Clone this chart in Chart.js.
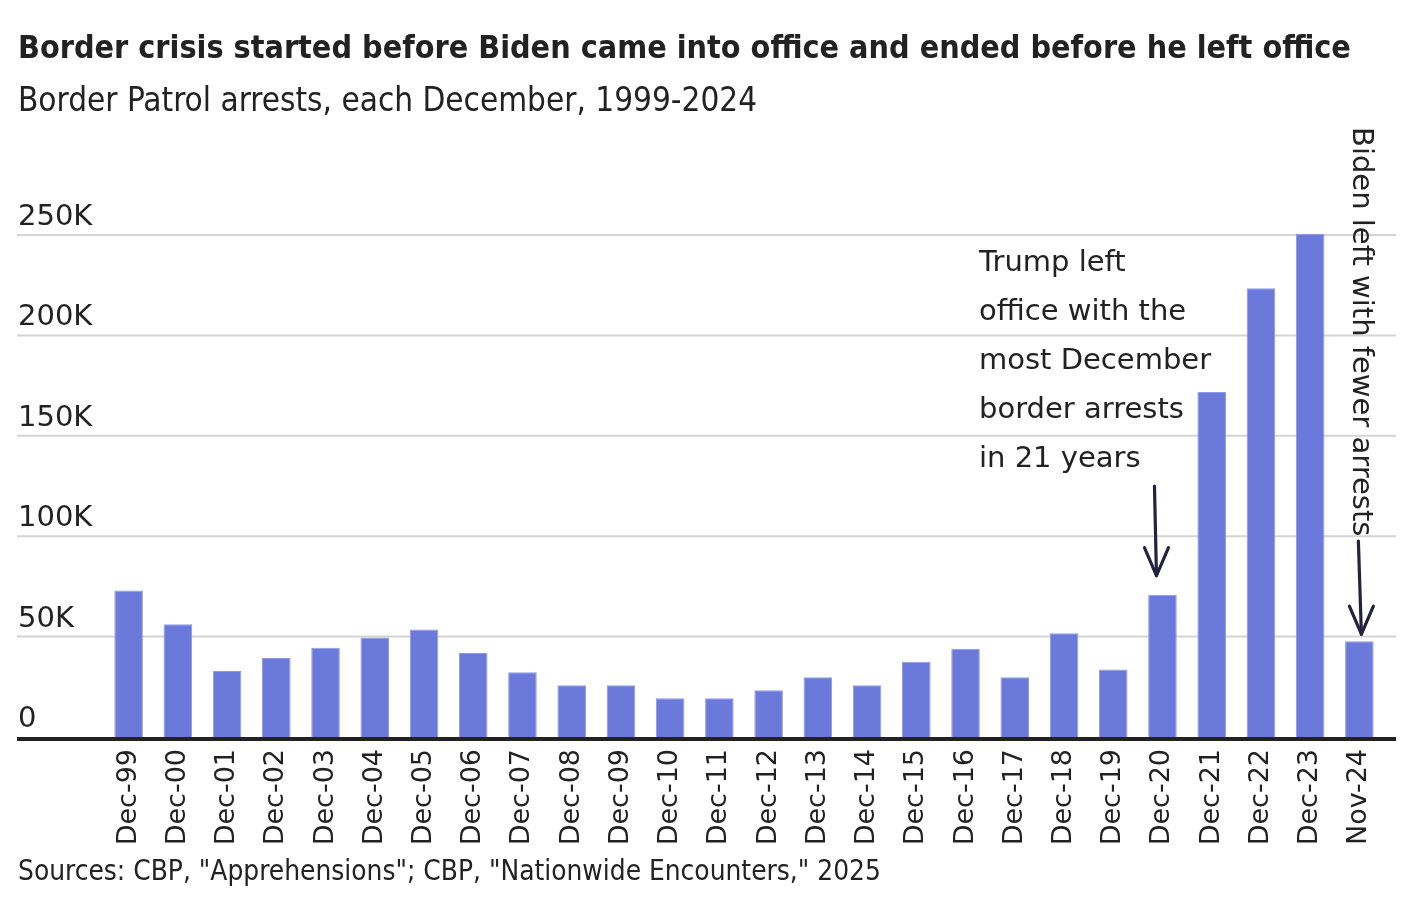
<!DOCTYPE html>
<html>
<head>
<meta charset="utf-8">
<script src="https://cdn.jsdelivr.net/npm/chart.js@4.4.1/dist/chart.umd.min.js"></script>
<style>
    body { margin: 0; background: #fff; }
    #wrap { position: relative; width: 1412px; height: 914px; }
    #chartBox { position: absolute; left: 0; top: 0; width: 1412px; height: 914px; }
    .txt { position: absolute; left: 18px; white-space: nowrap; color: #222; font-family: "DejaVu Sans", sans-serif; font-stretch: condensed; }
    #title { top: 29px; font-size: 32px; font-weight: bold; line-height: 36px; }
    #subtitle { top: 82px; font-size: 33px; line-height: 36px; }
    #source { top: 856px; font-size: 27.8px; line-height: 30px; }
</style>
</head>
<body>
<div id="wrap">
    <div id="chartBox"><canvas id="chart-bar"></canvas></div>
    <div class="txt" id="title">Border crisis started before Biden came into office and ended before he left office</div>
    <div class="txt" id="subtitle">Border Patrol arrests, each December, 1999-2024</div>
    <div class="txt" id="source">Sources: CBP, "Apprehensions"; CBP, "Nationwide Encounters," 2025</div>
</div>
<script>
// Monthly labels on the x axis
var months = ['Dec-99', 'Dec-00', 'Dec-01', 'Dec-02', 'Dec-03', 'Dec-04', 'Dec-05', 'Dec-06',
    'Dec-07', 'Dec-08', 'Dec-09', 'Dec-10', 'Dec-11', 'Dec-12', 'Dec-13', 'Dec-14', 'Dec-15',
    'Dec-16', 'Dec-17', 'Dec-18', 'Dec-19', 'Dec-20', 'Dec-21', 'Dec-22', 'Dec-23', 'Nov-24'];

// Border Patrol arrests
var arrests = [73000, 56100, 32900, 39300, 44500, 49600, 53500, 41800,
    32300, 25800, 25800, 19300, 19300, 23300, 29700, 25800, 37500,
    44000, 29700, 51700, 33600, 70900, 171800, 223500, 250600, 47700];

var yTicks = [0, 50000, 100000, 150000, 200000, 250000];
var yTickLabels = ['0', '50K', '100K', '150K', '200K', '250K'];

var trumpNote = ['Trump left', 'office with the', 'most December', 'border arrests', 'in 21 years'];
var bidenNote = 'Biden left with fewer arrests';

var ink = '#222222';
var arrowInk = '#25223f';
var textFont = '29px "DejaVu Sans", sans-serif';

function drawArrow(ctx, x1, y1, x2, y2) {
    ctx.save();
    ctx.strokeStyle = arrowInk;
    ctx.lineWidth = 3.2;
    ctx.lineCap = 'round';
    ctx.lineJoin = 'round';
    ctx.beginPath();
    ctx.moveTo(x1, y1);
    ctx.lineTo(x2, y2);
    ctx.stroke();
    ctx.beginPath();
    ctx.moveTo(x2 - 12, y2 - 28);
    ctx.lineTo(x2, y2);
    ctx.lineTo(x2 + 12, y2 - 28);
    ctx.stroke();
    ctx.restore();
}

var gridPlugin = {
    id: 'gridPlugin',
    beforeDatasetsDraw: function(chart) {
        var ctx = chart.ctx;
        var y = chart.scales.y;
        ctx.save();
        ctx.strokeStyle = '#d4d4d4';
        ctx.lineWidth = 2;
        ctx.fillStyle = ink;
        ctx.font = textFont;
        ctx.textAlign = 'left';
        ctx.textBaseline = 'alphabetic';
        yTicks.forEach(function(v, i) {
            var py = y.getPixelForValue(v);
            if (v > 0) {
                ctx.beginPath();
                ctx.moveTo(17, py);
                ctx.lineTo(1396, py);
                ctx.stroke();
            }
            ctx.fillText(yTickLabels[i], 18, py - 10);
        });
        ctx.restore();
    },
    afterDatasetsDraw: function(chart) {
        var ctx = chart.ctx;
        var x = chart.scales.x;
        var y = chart.scales.y;
        var y0 = y.getPixelForValue(0);

        // baseline
        ctx.save();
        ctx.fillStyle = '#222222';
        ctx.fillRect(17, y0, 1379, 4);

        // Trump note
        ctx.fillStyle = ink;
        ctx.font = textFont;
        ctx.textAlign = 'left';
        ctx.textBaseline = 'alphabetic';
        trumpNote.forEach(function(line, i) {
            ctx.fillText(line, 979, 271 + i * 49);
        });

        var i20 = months.indexOf('Dec-20');
        var ax = x.getPixelForValue(i20) - 6;
        drawArrow(ctx, ax - 2, 486, ax, y.getPixelForValue(arrests[i20]) - 19);

        // Biden note, vertical
        var i24 = months.indexOf('Nov-24');
        var bx = x.getPixelForValue(i24);
        ctx.save();
        ctx.translate(bx + 1, 127);
        ctx.rotate(Math.PI / 2);
        ctx.textBaseline = 'middle';
        ctx.fillText(bidenNote, 0, 0);
        ctx.restore();
        drawArrow(ctx, bx - 1, 541, bx + 2, y.getPixelForValue(arrests[i24]) - 7);
        ctx.restore();
    }
};

var ctx = document.getElementById('chart-bar').getContext('2d');

window.chart = new Chart(ctx, {
    type: 'bar',
    data: {
        labels: months,
        datasets: [{
            label: 'Arrests',
            data: arrests,
            backgroundColor: '#6a79da',
            borderColor: '#8d98e4',
            borderWidth: { top: 1, left: 1, right: 1, bottom: 0 },
            categoryPercentage: 1.0,
            barPercentage: 0.58,
        }],
    },
    options: {
        responsive: true,
        maintainAspectRatio: false,
        animation: false,
        layout: {
            padding: { left: 104, right: 28, top: 215, bottom: 0 }
        },
        plugins: {
            legend: { display: false },
            tooltip: { enabled: false },
        },
        scales: {
            y: {
                display: false,
                min: 0,
                max: 260000,
            },
            x: {
                grid: { display: false, drawTicks: false },
                border: { display: false },
                afterFit: function(scale) { scale.height = 177; },
                ticks: {
                    autoSkip: false,
                    maxRotation: 90,
                    minRotation: 90,
                    padding: 12,
                    color: ink,
                    font: { size: 27, family: '"DejaVu Sans", sans-serif' },
                },
            },
        },
    },
    plugins: [gridPlugin],
});
</script>
</body>
</html>
